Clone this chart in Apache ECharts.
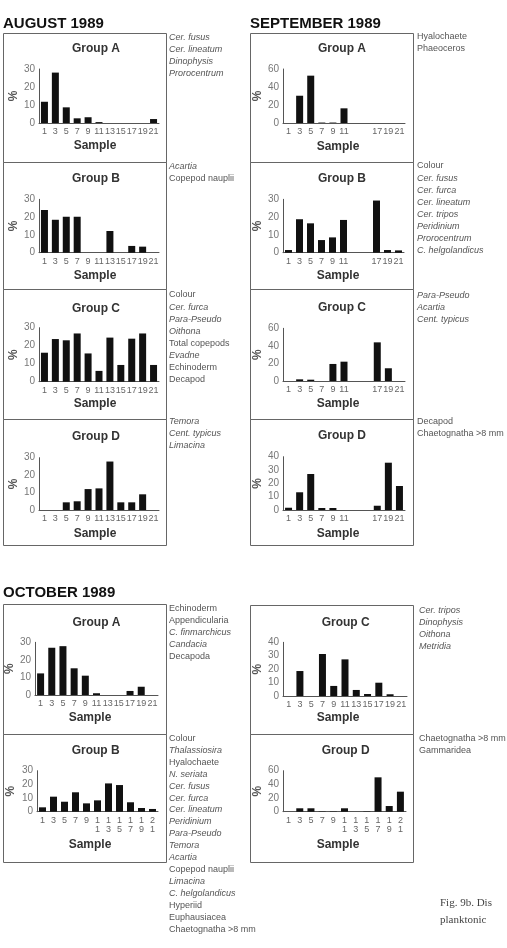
<!DOCTYPE html>
<html><head><meta charset="utf-8">
<script src="https://cdn.jsdelivr.net/npm/echarts@6/dist/echarts.min.js"></script>
<style>html,body{margin:0;padding:0;background:#fff}#c{width:507px;height:948px}</style>
</head><body><div id="c"></div>
<script>
// ---- categories / tick labels ----
const samples = ['1','3','5','7','9','11','13','15','17','19','21'];
const sepSamples = ['1','3','5','7','9','11','','','17','19','21'];
const octSamples2 = ['1','3','5','7','9','1\n1','1\n3','1\n5','1\n7','1\n9','2\n1'];

// ---- series values (% per sample) ----
const augA = [11.8, 28, 8.7, 2.6, 3.2, 0.5, 0, 0, 0, 0, 2.2];
const augB = [24, 18.5, 20.2, 20.2, 0, 0, 12.2, 0, 3.8, 3.4, 0];
const augC = [16.1, 23.7, 23.0, 26.8, 15.7, 6.0, 24.5, 9.3, 23.9, 26.8, 9.3];
const augD = [0, 0, 4.4, 5.0, 12.0, 12.4, 27.8, 4.4, 4.4, 9.0, 0];
const sepA = [0, 30.3, 52.6, 0.5, 0.5, 16.3, null, null, 0, 0, 0];
const sepB = [1.5, 18.8, 16.5, 7.1, 8.6, 18.4, null, null, 29.3, 1.5, 1.3];
const sepC = [0, 1.9, 1.5, 0, 19.4, 22.0, null, null, 44, 14.5, 0];
const sepD = [1.7, 13.3, 27, 1.5, 1.5, 0, null, null, 3.2, 35.5, 18];
const octA = [12.3, 26.9, 27.8, 15.2, 11.0, 1.0, 0, 0, 2.3, 4.7, 0];
const octB = [3.2, 11, 7.3, 14.2, 6.1, 8.3, 20.7, 19.5, 6.9, 2.7, 2.0];
const octC = [0, 18.6, 0, 31.3, 7.5, 27.3, 4.5, 1.5, 9.9, 1.3, 0];
const octD = [0, 5.0, 5.0, 0.5, 0.5, 5.0, 0, 0.5, 50.3, 8.3, 29.3];

// ---- y-axis maxima and steps ----
const yMax = {augA:30, augB:30, augC:30, augD:30, sepA:60, sepB:30, sepC:60, sepD:40, octA:30, octB:30, octC:40, octD:60};
const yStep = {augA:10, augB:10, augC:10, augD:10, sepA:20, sepB:10, sepC:20, sepD:10, octA:10, octB:10, octC:10, octD:20};

// ---- species lists ----
const augASpecies = ['Cer. fusus','Cer. lineatum','Dinophysis','Prorocentrum'];
const augBSpecies = ['Acartia','Copepod nauplii'];
const augCSpecies = ['Colour','Cer. furca','Para-Pseudo','Oithona','Total copepods','Evadne','Echinoderm','Decapod'];
const augDSpecies = ['Temora','Cent. typicus','Limacina'];
const sepASpecies = ['Hyalochaete','Phaeoceros'];
const sepBSpecies = ['Colour','Cer. fusus','Cer. furca','Cer. lineatum','Cer. tripos','Peridinium','Prorocentrum','C. helgolandicus'];
const sepCSpecies = ['Para-Pseudo','Acartia','Cent. typicus'];
const sepDSpecies = ['Decapod','Chaetognatha >8 mm'];
const octASpecies = ['Echinoderm','Appendicularia','C. finmarchicus','Candacia','Decapoda'];
const octBSpecies = ['Colour','Thalassiosira','Hyalochaete','N. seriata','Cer. fusus','Cer. furca','Cer. lineatum','Peridinium','Para-Pseudo','Temora','Acartia','Copepod nauplii','Limacina','C. helgolandicus','Hyperiid','Euphausiacea','Chaetognatha >8 mm'];
const octCSpecies = ['Cer. tripos','Dinophysis','Oithona','Metridia'];
const octDSpecies = ['Chaetognatha >8 mm','Gammaridea'];
const uprightNames = ['Colour','Total copepods','Echinoderm','Decapod','Copepod nauplii','Hyalochaete','Phaeoceros','Chaetognatha >8 mm','Appendicularia','Decapoda','Hyperiid','Euphausiacea','Gammaridea'];

const groupTitles = ['Group A','Group B','Group C','Group D'];
const monthTitles = ['AUGUST 1989','SEPTEMBER 1989','OCTOBER 1989'];
const captionLines = ['Fig. 9b. Dis','planktonic'];

// ---- layout (positions only) ----
const SANS = '"Liberation Sans", Arial, sans-serif';
const NARROW = '"Liberation Sans Narrow", "Liberation Sans", Arial, sans-serif';
const panels = [
 {t:0, cats:samples, data:augA, k:'augA', box:[3,33,166,162], grid:[39,69,159,123], tx:96, ty:49, sx:95, sy:146, lx:169, ly:37.5, ls:12, sp:augASpecies, pg:19},
 {t:1, cats:samples, data:augB, k:'augB', box:[3,162,166,289], grid:[39,199.3,159,252.7], tx:96, ty:179, sx:95, sy:276, lx:169, ly:166.7, ls:12, sp:augBSpecies, pg:19},
 {t:2, cats:samples, data:augC, k:'augC', box:[3,289,166,419], grid:[39,327.7,159,381.7], tx:96, ty:308.3, sx:95, sy:404, lx:169, ly:295, ls:12.05, sp:augCSpecies, pg:19},
 {t:3, cats:samples, data:augD, k:'augD', box:[3,419,166,545], grid:[39,457.7,159,510], tx:96, ty:436.7, sx:95, sy:533.3, lx:169, ly:421.7, ls:12, sp:augDSpecies, pg:19},
 {t:0, cats:sepSamples, data:sepA, k:'sepA', box:[250,33,413,162], grid:[283,69,405,123], tx:342, ty:49, sx:338, sy:146.5, lx:417, ly:36.7, ls:12, sp:sepASpecies, pg:18},
 {t:1, cats:sepSamples, data:sepB, k:'sepB', box:[250,162,413,289], grid:[283,199.3,404,252.7], tx:342, ty:179, sx:338, sy:276, lx:417, ly:166, ls:12, sp:sepBSpecies, pg:18},
 {t:2, cats:sepSamples, data:sepC, k:'sepC', box:[250,289,413,419], grid:[283,328.3,405,381], tx:342, ty:307.7, sx:338, sy:404, lx:417, ly:295, ls:12, sp:sepCSpecies, pg:18},
 {t:3, cats:sepSamples, data:sepD, k:'sepD', box:[250,419,413,545], grid:[283,456.7,405,510], tx:342, ty:436, sx:338, sy:533.3, lx:417, ly:422, ls:12, sp:sepDSpecies, pg:18},
 {t:0, cats:samples, data:octA, k:'octA', box:[3,604,166,734], grid:[35,642.3,158,695], tx:96.5, ty:623, sx:90, sy:717.7, lx:169, ly:608.3, ls:12.1, sp:octASpecies, pg:18},
 {t:1, cats:octSamples2, data:octB, k:'octB', box:[3,734,166,862], grid:[37,770.7,158,811.7], tx:95.7, ty:751, sx:90, sy:845, lx:169, ly:738.3, ls:11.94, sp:octBSpecies, pg:20},
 {t:2, cats:samples, data:octC, k:'octC', box:[250,605,413,734], grid:[283,642.3,407,696], tx:345.7, ty:623, sx:338, sy:717.7, lx:419, ly:610, ls:12, sp:octCSpecies, pg:18},
 {t:3, cats:octSamples2, data:octD, k:'octD', box:[250,734,413,862], grid:[283,770.7,406,811.7], tx:345.7, ty:750.7, sx:338, sy:845, lx:419, ly:739, ls:12, sp:octDSpecies, pg:18}
];

function txt(text, x, y, font, fill, align, valign){
  return {type:'text', silent:true, style:{text:text, x:x, y:y, font:font, fill:fill||'#222',
    textAlign:align||'left', textVerticalAlign:valign||'middle', align:align||'left', verticalAlign:valign||'middle'}};
}

const grids=[], xAxes=[], yAxes=[], series=[], graphics=[];
panels.forEach((p,i)=>{
  const g=p.grid;
  grids.push({left:g[0], top:g[1], width:g[2]-g[0], height:g[3]-g[1], containLabel:false});
  xAxes.push({type:'category', gridIndex:i, data:p.cats, boundaryGap:true,
    axisLine:{show:true, lineStyle:{color:'#555', width:1}}, axisTick:{show:false},
    axisLabel:{interval:0, fontSize:9, color:'#666', margin:4, lineHeight:9, fontFamily:NARROW}});
  yAxes.push({type:'value', gridIndex:i, min:0, max:yMax[p.k], interval:yStep[p.k],
    axisLine:{show:true, lineStyle:{color:'#555', width:1}}, axisTick:{show:false}, splitLine:{show:false},
    axisLabel:{fontSize:10, color:'#777', margin:4, fontFamily:SANS},
    name:'%', nameLocation:'middle', nameRotate:90, nameGap:p.pg,
    nameTextStyle:{fontSize:12, fontWeight:'bold', color:'#555', fontFamily:SANS}});
  series.push({type:'bar', xAxisIndex:i, yAxisIndex:i, data:p.data, barWidth:7,
    itemStyle:{color:'#111'}, silent:true, animation:false});
  const b=p.box;
  graphics.push({type:'rect', silent:true, shape:{x:b[0]+0.5, y:b[1]+0.5, width:b[2]-b[0], height:b[3]-b[1]},
    style:{fill:'none', stroke:'#666', lineWidth:1}});
  graphics.push(txt(groupTitles[p.t], p.tx, p.ty, 'bold 12px '+SANS, '#333', 'center'));
  graphics.push(txt('Sample', p.sx, p.sy, 'bold 12px '+SANS, '#333', 'center'));
  p.sp.forEach((s,j)=>{
    const it = uprightNames.indexOf(s)<0;
    graphics.push(txt(s, p.lx, p.ly + j*p.ls, (it?'italic ':'')+'9px '+NARROW, '#555', 'left'));
  });
});
graphics.push(txt(monthTitles[0], 3, 24, 'bold 15px '+SANS, '#111'));
graphics.push(txt(monthTitles[1], 250, 24, 'bold 15px '+SANS, '#111'));
graphics.push(txt(monthTitles[2], 3, 593, 'bold 15px '+SANS, '#111'));
graphics.push(txt(captionLines[0], 440, 903, '11px "Liberation Serif", "DejaVu Serif", serif', '#444'));
graphics.push(txt(captionLines[1], 440, 920, '11px "Liberation Serif", "DejaVu Serif", serif', '#444'));

const chart = echarts.init(document.getElementById('c'), null, {renderer:'canvas'});
chart.setOption({animation:false, backgroundColor:'#fff', grid:grids, xAxis:xAxes, yAxis:yAxes, series:series, graphic:graphics});
</script></body></html>
